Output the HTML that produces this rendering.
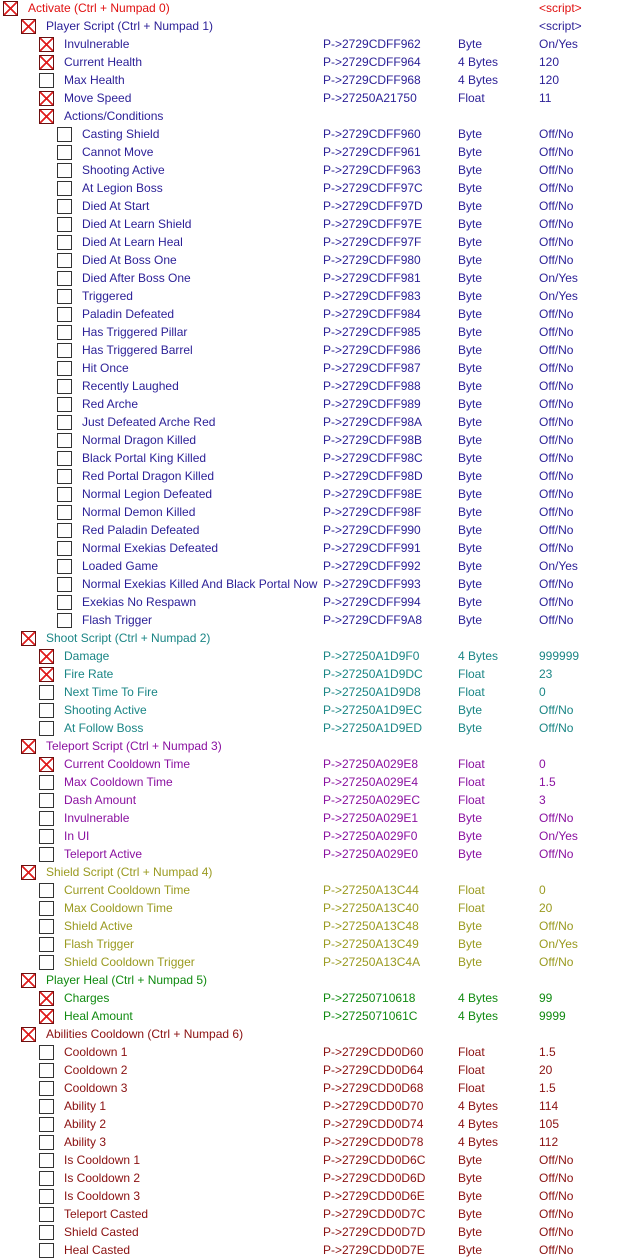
<!DOCTYPE html>
<html><head><meta charset="utf-8"><style>
body{margin:0;width:626px;height:1259px;background:#fff;position:relative;overflow:hidden;font-family:"Liberation Sans",Arial,sans-serif;font-size:12px}
.r{position:absolute;left:0;width:626px;height:18px;line-height:18px;white-space:nowrap}
.r span{position:absolute;top:0}
.b{position:absolute;top:2px;width:13px;height:13px;border:1px solid #333;background:#fff}
.x{background:linear-gradient(45deg,transparent 45%,#e02020 45%,#e02020 55%,transparent 55%),linear-gradient(-45deg,transparent 45%,#e02020 45%,#e02020 55%,transparent 55%),#fff;border-color:#6a1010}
.a{left:323px}.t{left:458px}.v{left:539px}
.c0{color:#e01010}.c1{color:#2a1e96}.c2{color:#1a8585}.c3{color:#8a10a0}.c4{color:#9a9a20}.c5{color:#108a10}.c6{color:#8a1010}
</style></head><body>
<div class="r c0" style="top:-1px"><i class="b x" style="left:3px"></i><span style="left:28px">Activate (Ctrl + Numpad 0)</span><span class="v">&lt;script&gt;</span></div>
<div class="r c1" style="top:17px"><i class="b x" style="left:21px"></i><span style="left:46px">Player Script (Ctrl + Numpad 1)</span><span class="v">&lt;script&gt;</span></div>
<div class="r c1" style="top:35px"><i class="b x" style="left:39px"></i><span style="left:64px">Invulnerable</span><span class="a">P-&gt;2729CDFF962</span><span class="t">Byte</span><span class="v">On/Yes</span></div>
<div class="r c1" style="top:53px"><i class="b x" style="left:39px"></i><span style="left:64px">Current Health</span><span class="a">P-&gt;2729CDFF964</span><span class="t">4 Bytes</span><span class="v">120</span></div>
<div class="r c1" style="top:71px"><i class="b" style="left:39px"></i><span style="left:64px">Max Health</span><span class="a">P-&gt;2729CDFF968</span><span class="t">4 Bytes</span><span class="v">120</span></div>
<div class="r c1" style="top:89px"><i class="b x" style="left:39px"></i><span style="left:64px">Move Speed</span><span class="a">P-&gt;27250A21750</span><span class="t">Float</span><span class="v">11</span></div>
<div class="r c1" style="top:107px"><i class="b x" style="left:39px"></i><span style="left:64px">Actions/Conditions</span></div>
<div class="r c1" style="top:125px"><i class="b" style="left:57px"></i><span style="left:82px">Casting Shield</span><span class="a">P-&gt;2729CDFF960</span><span class="t">Byte</span><span class="v">Off/No</span></div>
<div class="r c1" style="top:143px"><i class="b" style="left:57px"></i><span style="left:82px">Cannot Move</span><span class="a">P-&gt;2729CDFF961</span><span class="t">Byte</span><span class="v">Off/No</span></div>
<div class="r c1" style="top:161px"><i class="b" style="left:57px"></i><span style="left:82px">Shooting Active</span><span class="a">P-&gt;2729CDFF963</span><span class="t">Byte</span><span class="v">Off/No</span></div>
<div class="r c1" style="top:179px"><i class="b" style="left:57px"></i><span style="left:82px">At Legion Boss</span><span class="a">P-&gt;2729CDFF97C</span><span class="t">Byte</span><span class="v">Off/No</span></div>
<div class="r c1" style="top:197px"><i class="b" style="left:57px"></i><span style="left:82px">Died At Start</span><span class="a">P-&gt;2729CDFF97D</span><span class="t">Byte</span><span class="v">Off/No</span></div>
<div class="r c1" style="top:215px"><i class="b" style="left:57px"></i><span style="left:82px">Died At Learn Shield</span><span class="a">P-&gt;2729CDFF97E</span><span class="t">Byte</span><span class="v">Off/No</span></div>
<div class="r c1" style="top:233px"><i class="b" style="left:57px"></i><span style="left:82px">Died At Learn Heal</span><span class="a">P-&gt;2729CDFF97F</span><span class="t">Byte</span><span class="v">Off/No</span></div>
<div class="r c1" style="top:251px"><i class="b" style="left:57px"></i><span style="left:82px">Died At Boss One</span><span class="a">P-&gt;2729CDFF980</span><span class="t">Byte</span><span class="v">Off/No</span></div>
<div class="r c1" style="top:269px"><i class="b" style="left:57px"></i><span style="left:82px">Died After Boss One</span><span class="a">P-&gt;2729CDFF981</span><span class="t">Byte</span><span class="v">On/Yes</span></div>
<div class="r c1" style="top:287px"><i class="b" style="left:57px"></i><span style="left:82px">Triggered</span><span class="a">P-&gt;2729CDFF983</span><span class="t">Byte</span><span class="v">On/Yes</span></div>
<div class="r c1" style="top:305px"><i class="b" style="left:57px"></i><span style="left:82px">Paladin Defeated</span><span class="a">P-&gt;2729CDFF984</span><span class="t">Byte</span><span class="v">Off/No</span></div>
<div class="r c1" style="top:323px"><i class="b" style="left:57px"></i><span style="left:82px">Has Triggered Pillar</span><span class="a">P-&gt;2729CDFF985</span><span class="t">Byte</span><span class="v">Off/No</span></div>
<div class="r c1" style="top:341px"><i class="b" style="left:57px"></i><span style="left:82px">Has Triggered Barrel</span><span class="a">P-&gt;2729CDFF986</span><span class="t">Byte</span><span class="v">Off/No</span></div>
<div class="r c1" style="top:359px"><i class="b" style="left:57px"></i><span style="left:82px">Hit Once</span><span class="a">P-&gt;2729CDFF987</span><span class="t">Byte</span><span class="v">Off/No</span></div>
<div class="r c1" style="top:377px"><i class="b" style="left:57px"></i><span style="left:82px">Recently Laughed</span><span class="a">P-&gt;2729CDFF988</span><span class="t">Byte</span><span class="v">Off/No</span></div>
<div class="r c1" style="top:395px"><i class="b" style="left:57px"></i><span style="left:82px">Red Arche</span><span class="a">P-&gt;2729CDFF989</span><span class="t">Byte</span><span class="v">Off/No</span></div>
<div class="r c1" style="top:413px"><i class="b" style="left:57px"></i><span style="left:82px">Just Defeated Arche Red</span><span class="a">P-&gt;2729CDFF98A</span><span class="t">Byte</span><span class="v">Off/No</span></div>
<div class="r c1" style="top:431px"><i class="b" style="left:57px"></i><span style="left:82px">Normal Dragon Killed</span><span class="a">P-&gt;2729CDFF98B</span><span class="t">Byte</span><span class="v">Off/No</span></div>
<div class="r c1" style="top:449px"><i class="b" style="left:57px"></i><span style="left:82px">Black Portal King Killed</span><span class="a">P-&gt;2729CDFF98C</span><span class="t">Byte</span><span class="v">Off/No</span></div>
<div class="r c1" style="top:467px"><i class="b" style="left:57px"></i><span style="left:82px">Red Portal Dragon Killed</span><span class="a">P-&gt;2729CDFF98D</span><span class="t">Byte</span><span class="v">Off/No</span></div>
<div class="r c1" style="top:485px"><i class="b" style="left:57px"></i><span style="left:82px">Normal Legion Defeated</span><span class="a">P-&gt;2729CDFF98E</span><span class="t">Byte</span><span class="v">Off/No</span></div>
<div class="r c1" style="top:503px"><i class="b" style="left:57px"></i><span style="left:82px">Normal Demon Killed</span><span class="a">P-&gt;2729CDFF98F</span><span class="t">Byte</span><span class="v">Off/No</span></div>
<div class="r c1" style="top:521px"><i class="b" style="left:57px"></i><span style="left:82px">Red Paladin Defeated</span><span class="a">P-&gt;2729CDFF990</span><span class="t">Byte</span><span class="v">Off/No</span></div>
<div class="r c1" style="top:539px"><i class="b" style="left:57px"></i><span style="left:82px">Normal Exekias Defeated</span><span class="a">P-&gt;2729CDFF991</span><span class="t">Byte</span><span class="v">Off/No</span></div>
<div class="r c1" style="top:557px"><i class="b" style="left:57px"></i><span style="left:82px">Loaded Game</span><span class="a">P-&gt;2729CDFF992</span><span class="t">Byte</span><span class="v">On/Yes</span></div>
<div class="r c1" style="top:575px"><i class="b" style="left:57px"></i><span style="left:82px">Normal Exekias Killed And Black Portal Now</span><span class="a">P-&gt;2729CDFF993</span><span class="t">Byte</span><span class="v">Off/No</span></div>
<div class="r c1" style="top:593px"><i class="b" style="left:57px"></i><span style="left:82px">Exekias No Respawn</span><span class="a">P-&gt;2729CDFF994</span><span class="t">Byte</span><span class="v">Off/No</span></div>
<div class="r c1" style="top:611px"><i class="b" style="left:57px"></i><span style="left:82px">Flash Trigger</span><span class="a">P-&gt;2729CDFF9A8</span><span class="t">Byte</span><span class="v">Off/No</span></div>
<div class="r c2" style="top:629px"><i class="b x" style="left:21px"></i><span style="left:46px">Shoot Script (Ctrl + Numpad 2)</span></div>
<div class="r c2" style="top:647px"><i class="b x" style="left:39px"></i><span style="left:64px">Damage</span><span class="a">P-&gt;27250A1D9F0</span><span class="t">4 Bytes</span><span class="v">999999</span></div>
<div class="r c2" style="top:665px"><i class="b x" style="left:39px"></i><span style="left:64px">Fire Rate</span><span class="a">P-&gt;27250A1D9DC</span><span class="t">Float</span><span class="v">23</span></div>
<div class="r c2" style="top:683px"><i class="b" style="left:39px"></i><span style="left:64px">Next Time To Fire</span><span class="a">P-&gt;27250A1D9D8</span><span class="t">Float</span><span class="v">0</span></div>
<div class="r c2" style="top:701px"><i class="b" style="left:39px"></i><span style="left:64px">Shooting Active</span><span class="a">P-&gt;27250A1D9EC</span><span class="t">Byte</span><span class="v">Off/No</span></div>
<div class="r c2" style="top:719px"><i class="b" style="left:39px"></i><span style="left:64px">At Follow Boss</span><span class="a">P-&gt;27250A1D9ED</span><span class="t">Byte</span><span class="v">Off/No</span></div>
<div class="r c3" style="top:737px"><i class="b x" style="left:21px"></i><span style="left:46px">Teleport Script (Ctrl + Numpad 3)</span></div>
<div class="r c3" style="top:755px"><i class="b x" style="left:39px"></i><span style="left:64px">Current Cooldown Time</span><span class="a">P-&gt;27250A029E8</span><span class="t">Float</span><span class="v">0</span></div>
<div class="r c3" style="top:773px"><i class="b" style="left:39px"></i><span style="left:64px">Max Cooldown Time</span><span class="a">P-&gt;27250A029E4</span><span class="t">Float</span><span class="v">1.5</span></div>
<div class="r c3" style="top:791px"><i class="b" style="left:39px"></i><span style="left:64px">Dash Amount</span><span class="a">P-&gt;27250A029EC</span><span class="t">Float</span><span class="v">3</span></div>
<div class="r c3" style="top:809px"><i class="b" style="left:39px"></i><span style="left:64px">Invulnerable</span><span class="a">P-&gt;27250A029E1</span><span class="t">Byte</span><span class="v">Off/No</span></div>
<div class="r c3" style="top:827px"><i class="b" style="left:39px"></i><span style="left:64px">In UI</span><span class="a">P-&gt;27250A029F0</span><span class="t">Byte</span><span class="v">On/Yes</span></div>
<div class="r c3" style="top:845px"><i class="b" style="left:39px"></i><span style="left:64px">Teleport Active</span><span class="a">P-&gt;27250A029E0</span><span class="t">Byte</span><span class="v">Off/No</span></div>
<div class="r c4" style="top:863px"><i class="b x" style="left:21px"></i><span style="left:46px">Shield Script (Ctrl + Numpad 4)</span></div>
<div class="r c4" style="top:881px"><i class="b" style="left:39px"></i><span style="left:64px">Current Cooldown Time</span><span class="a">P-&gt;27250A13C44</span><span class="t">Float</span><span class="v">0</span></div>
<div class="r c4" style="top:899px"><i class="b" style="left:39px"></i><span style="left:64px">Max Cooldown Time</span><span class="a">P-&gt;27250A13C40</span><span class="t">Float</span><span class="v">20</span></div>
<div class="r c4" style="top:917px"><i class="b" style="left:39px"></i><span style="left:64px">Shield Active</span><span class="a">P-&gt;27250A13C48</span><span class="t">Byte</span><span class="v">Off/No</span></div>
<div class="r c4" style="top:935px"><i class="b" style="left:39px"></i><span style="left:64px">Flash Trigger</span><span class="a">P-&gt;27250A13C49</span><span class="t">Byte</span><span class="v">On/Yes</span></div>
<div class="r c4" style="top:953px"><i class="b" style="left:39px"></i><span style="left:64px">Shield Cooldown Trigger</span><span class="a">P-&gt;27250A13C4A</span><span class="t">Byte</span><span class="v">Off/No</span></div>
<div class="r c5" style="top:971px"><i class="b x" style="left:21px"></i><span style="left:46px">Player Heal (Ctrl + Numpad 5)</span></div>
<div class="r c5" style="top:989px"><i class="b x" style="left:39px"></i><span style="left:64px">Charges</span><span class="a">P-&gt;27250710618</span><span class="t">4 Bytes</span><span class="v">99</span></div>
<div class="r c5" style="top:1007px"><i class="b x" style="left:39px"></i><span style="left:64px">Heal Amount</span><span class="a">P-&gt;2725071061C</span><span class="t">4 Bytes</span><span class="v">9999</span></div>
<div class="r c6" style="top:1025px"><i class="b x" style="left:21px"></i><span style="left:46px">Abilities Cooldown (Ctrl + Numpad 6)</span></div>
<div class="r c6" style="top:1043px"><i class="b" style="left:39px"></i><span style="left:64px">Cooldown 1</span><span class="a">P-&gt;2729CDD0D60</span><span class="t">Float</span><span class="v">1.5</span></div>
<div class="r c6" style="top:1061px"><i class="b" style="left:39px"></i><span style="left:64px">Cooldown 2</span><span class="a">P-&gt;2729CDD0D64</span><span class="t">Float</span><span class="v">20</span></div>
<div class="r c6" style="top:1079px"><i class="b" style="left:39px"></i><span style="left:64px">Cooldown 3</span><span class="a">P-&gt;2729CDD0D68</span><span class="t">Float</span><span class="v">1.5</span></div>
<div class="r c6" style="top:1097px"><i class="b" style="left:39px"></i><span style="left:64px">Ability 1</span><span class="a">P-&gt;2729CDD0D70</span><span class="t">4 Bytes</span><span class="v">114</span></div>
<div class="r c6" style="top:1115px"><i class="b" style="left:39px"></i><span style="left:64px">Ability 2</span><span class="a">P-&gt;2729CDD0D74</span><span class="t">4 Bytes</span><span class="v">105</span></div>
<div class="r c6" style="top:1133px"><i class="b" style="left:39px"></i><span style="left:64px">Ability 3</span><span class="a">P-&gt;2729CDD0D78</span><span class="t">4 Bytes</span><span class="v">112</span></div>
<div class="r c6" style="top:1151px"><i class="b" style="left:39px"></i><span style="left:64px">Is Cooldown 1</span><span class="a">P-&gt;2729CDD0D6C</span><span class="t">Byte</span><span class="v">Off/No</span></div>
<div class="r c6" style="top:1169px"><i class="b" style="left:39px"></i><span style="left:64px">Is Cooldown 2</span><span class="a">P-&gt;2729CDD0D6D</span><span class="t">Byte</span><span class="v">Off/No</span></div>
<div class="r c6" style="top:1187px"><i class="b" style="left:39px"></i><span style="left:64px">Is Cooldown 3</span><span class="a">P-&gt;2729CDD0D6E</span><span class="t">Byte</span><span class="v">Off/No</span></div>
<div class="r c6" style="top:1205px"><i class="b" style="left:39px"></i><span style="left:64px">Teleport Casted</span><span class="a">P-&gt;2729CDD0D7C</span><span class="t">Byte</span><span class="v">Off/No</span></div>
<div class="r c6" style="top:1223px"><i class="b" style="left:39px"></i><span style="left:64px">Shield Casted</span><span class="a">P-&gt;2729CDD0D7D</span><span class="t">Byte</span><span class="v">Off/No</span></div>
<div class="r c6" style="top:1241px"><i class="b" style="left:39px"></i><span style="left:64px">Heal Casted</span><span class="a">P-&gt;2729CDD0D7E</span><span class="t">Byte</span><span class="v">Off/No</span></div>
</body></html>
